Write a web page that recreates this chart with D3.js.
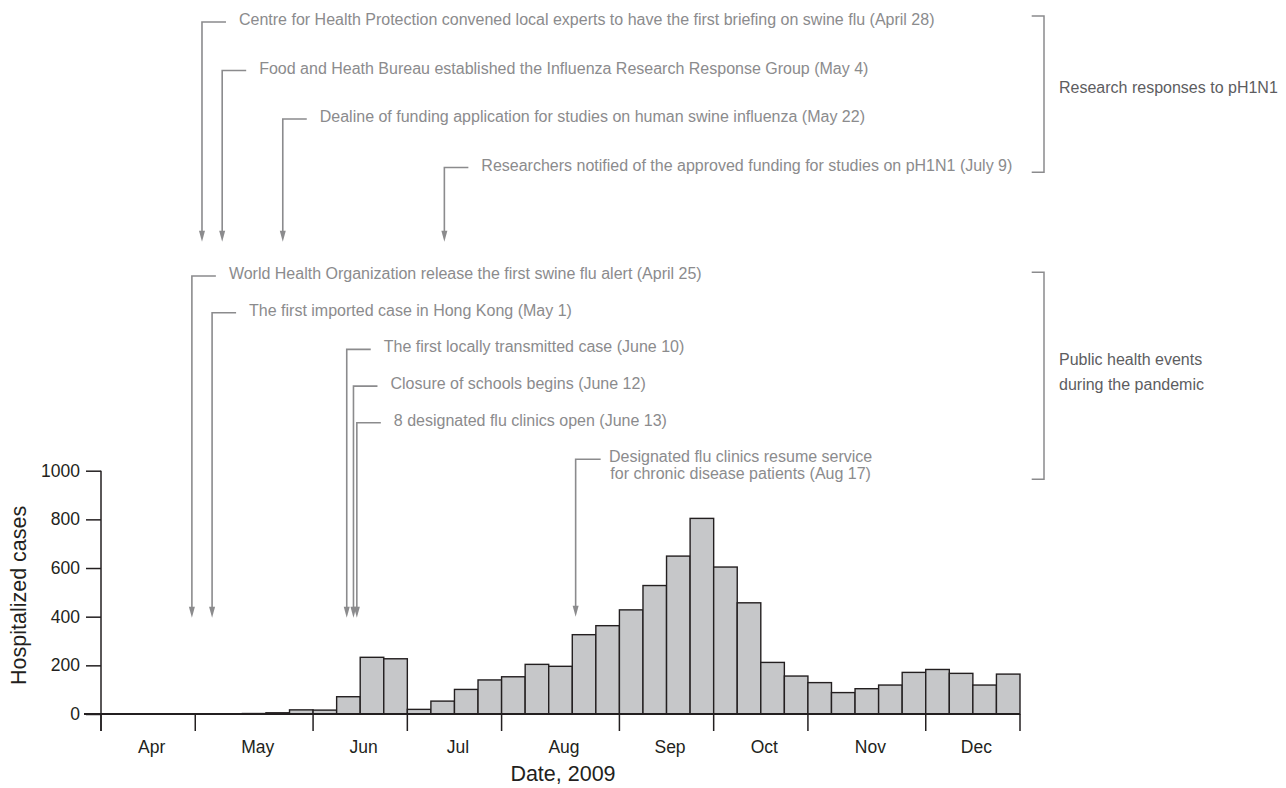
<!DOCTYPE html>
<html>
<head>
<meta charset="utf-8">
<script src="https://cdn.jsdelivr.net/npm/d3@7"></script>
<style>
  html, body { margin: 0; padding: 0; background: #fff; }
  svg { display: block; font-family: "Liberation Sans", Arial, sans-serif; }
</style>
</head>
<body>
<svg id="chart"></svg>
<script>
const W = 1286, H = 788;

// ── Data ──
const firstWeek = new Date(Date.UTC(2009, 2, 29));   // weeks start on Sunday
const weeklyCases = [
    0, 0, 0, 0, 0, 1, 2, 5, 17, 16,
    71, 233, 227, 19, 53, 101, 140, 153, 204, 196,
    326, 363, 428, 528, 649, 804, 604, 457, 212, 156,
    129, 88, 104, 119, 171, 183, 167, 119, 164
];
const monthLabels   = ['Apr', 'May', 'Jun', 'Jul', 'Aug', 'Sep', 'Oct', 'Nov', 'Dec'];
const weeksPerMonth = [4, 5, 4, 4, 5, 4, 4, 5, 4];
const yTicks = [0, 200, 400, 600, 800, 1000];

const researchLabels = [
    'Centre for Health Protection convened local experts to have the first briefing on swine flu (April 28)',
    'Food and Heath Bureau established the Influenza Research Response Group (May 4)',
    'Dealine of funding application for studies on human swine influenza (May 22)',
    'Researchers notified of the approved funding for studies on pH1N1 (July 9)'
];
const researchDates = ['2009-04-28', '2009-05-04', '2009-05-22', '2009-07-09'];

const publicLabels = [
    'World Health Organization release the first swine flu alert (April 25)',
    'The first imported case in Hong Kong (May 1)',
    'The first locally transmitted case (June 10)',
    'Closure of schools begins (June 12)',
    '8 designated flu clinics open (June 13)'
];
const publicDates = ['2009-04-25', '2009-05-01', '2009-06-10', '2009-06-12', '2009-06-13'];

const lateLabel = ['Designated flu clinics resume service', 'for chronic disease patients (Aug 17)'];
const lateDate  = '2009-08-17';

const groupLabels = [['Research responses to pH1N1'], ['Public health events', 'during the pandemic']];

// ── Setup ──
const INK  = '#231f20';
const GREY = '#8b8b8d';
const BAR  = '#c6c7c9';
const NOTE_SIZE = 16;

const svg = d3.select('#chart').attr('width', W).attr('height', H);

const weeks = weeklyCases.map((v, i) => ({
    start: d3.utcWeek.offset(firstWeek, i),
    end:   d3.utcWeek.offset(firstWeek, i + 1),
    value: v
}));

const x = d3.scaleUtc()
    .domain([firstWeek, d3.utcWeek.offset(firstWeek, weeklyCases.length)])
    .range([101, 1020]);
const y = d3.scaleLinear().domain([0, 1000]).range([714, 470.7]);

const parse = d3.utcParse('%Y-%m-%d');

// ── Bars ──
svg.append('g')
    .selectAll('rect')
    .data(weeks)
    .join('rect')
    .attr('x', d => x(d.start))
    .attr('y', d => y(d.value))
    .attr('width', d => x(d.end) - x(d.start))
    .attr('height', d => y(0) - y(d.value))
    .attr('fill', BAR)
    .attr('stroke', INK)
    .attr('stroke-width', 1.4);

// ── Y axis ──
const yAxis = svg.append('g')
    .attr('transform', `translate(${x.range()[0]},0)`)
    .call(d3.axisLeft(y).tickValues(yTicks).tickFormat(d3.format('d'))
        .tickSize(15).tickPadding(6).tickSizeOuter(0));
yAxis.select('.domain').remove();
yAxis.append('line')
    .attr('x1', 0).attr('x2', 0)
    .attr('y1', y(1000)).attr('y2', y(0) + 17)
    .attr('stroke', INK).attr('stroke-width', 1.5);
yAxis.selectAll('.tick line').attr('stroke', INK).attr('stroke-width', 1.5);
yAxis.selectAll('.tick text')
    .attr('fill', INK)
    .attr('font-size', 17.5)
    .attr('font-family', '"Liberation Sans", Arial, sans-serif');

// ── X axis ──
let acc = 0;
const monthEdges = [firstWeek].concat(weeksPerMonth.map(n => d3.utcWeek.offset(firstWeek, acc += n)));

const xAxis = svg.append('g').attr('transform', `translate(0,${y(0)})`);
xAxis.append('line')
    .attr('x1', 84).attr('x2', x.range()[1])
    .attr('stroke', INK).attr('stroke-width', 1.8);
xAxis.selectAll('line.tick')
    .data(monthEdges)
    .join('line')
    .attr('class', 'tick')
    .attr('x1', d => x(d)).attr('x2', d => x(d))
    .attr('y1', 0).attr('y2', 17)
    .attr('stroke', INK).attr('stroke-width', 1.5);
xAxis.selectAll('text')
    .data(monthLabels)
    .join('text')
    .attr('x', (d, i) => (x(monthEdges[i]) + x(monthEdges[i + 1])) / 2 + 3.5)
    .attr('y', 39)
    .attr('text-anchor', 'middle')
    .attr('font-size', 17.5)
    .attr('fill', INK)
    .text(d => d);

svg.append('text')
    .attr('x', 563).attr('y', 781)
    .attr('text-anchor', 'middle')
    .attr('font-size', 21.5)
    .attr('fill', INK)
    .text('Date, 2009');

svg.append('text')
    .attr('transform', `translate(26,${(y(0) + y(1000)) / 2 + 3}) rotate(-90)`)
    .attr('text-anchor', 'middle')
    .attr('font-size', 21.5)
    .attr('fill', INK)
    .text('Hospitalized cases');

// ── Event annotations ──
function drawEvents(labels, dates, rowY, tipY) {
    const g = svg.append('g');
    labels.forEach((label, i) => {
        const ax = x(parse(dates[i]));
        const ly = rowY(i);
        g.append('path')
            .attr('d', `M${ax + 24},${ly}H${ax}V${tipY - 9}`)
            .attr('fill', 'none')
            .attr('stroke', GREY)
            .attr('stroke-width', 1.6);
        g.append('path')
            .attr('d', `M${ax - 3},${tipY - 11}L${ax + 3},${tipY - 11}L${ax},${tipY}Z`)
            .attr('fill', GREY);
        g.append('text')
            .attr('x', ax + 37)
            .attr('y', ly + 3)
            .attr('font-size', NOTE_SIZE)
            .attr('fill', GREY)
            .text(label);
    });
}

drawEvents(researchLabels, researchDates, i => 22 + i * 48.5, 241.7);
drawEvents(publicLabels, publicDates, i => 276 + i * 36.7, 617.7);

// Aug 17: two-line centred note
const lx = x(parse(lateDate));
svg.append('path')
    .attr('d', `M${lx + 25},459.3H${lx}V${616.7 - 9}`)
    .attr('fill', 'none').attr('stroke', GREY).attr('stroke-width', 1.6);
svg.append('path')
    .attr('d', `M${lx - 3},${616.7 - 11}L${lx + 3},${616.7 - 11}L${lx},616.7Z`)
    .attr('fill', GREY);
svg.append('text')
    .attr('y', 462)
    .attr('text-anchor', 'middle')
    .attr('font-size', NOTE_SIZE)
    .attr('fill', GREY)
    .selectAll('tspan')
    .data(lateLabel)
    .join('tspan')
    .attr('x', lx + 165)
    .attr('dy', (d, i) => i === 0 ? 0 : 16.7)
    .text(d => d);

// ── Group brackets ──
const brackets = [
    { top: 16, bottom: 172.3, textY: 93, labels: groupLabels[0] },
    { top: 272.3, bottom: 479.3, textY: 365, labels: groupLabels[1] }
];
brackets.forEach(b => {
    svg.append('path')
        .attr('d', `M1031.7,${b.top}H1044V${b.bottom}H1031.7`)
        .attr('fill', 'none').attr('stroke', GREY).attr('stroke-width', 1.5);
    svg.append('text')
        .attr('x', 1059).attr('y', b.textY)
        .attr('font-size', 16)
        .attr('fill', '#5d5d5f')
        .selectAll('tspan')
        .data(b.labels)
        .join('tspan')
        .attr('x', 1059)
        .attr('dy', (d, i) => i === 0 ? 0 : 25)
        .text(d => d);
});
</script>
</body>
</html>
